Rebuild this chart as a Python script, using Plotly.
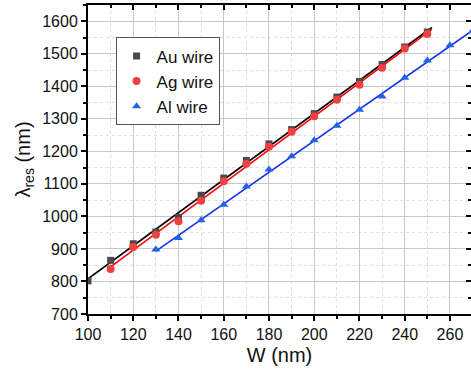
import numpy as np
import plotly.graph_objects as go

# Data
w_au = [100, 110, 120, 130, 140, 150, 160, 170, 180, 190, 200, 210, 220, 230, 240, 250]
lam_au = [802, 865, 916, 952, 997, 1065, 1118, 1172, 1223, 1267, 1316, 1367, 1415, 1467, 1521, 1567]
w_ag = [110, 120, 130, 140, 150, 160, 170, 180, 190, 200, 210, 220, 230, 240, 250]
lam_ag = [838, 906, 944, 985, 1048, 1108, 1162, 1214, 1260, 1308, 1359, 1405, 1457, 1516, 1561]
w_al = [130, 140, 150, 160, 170, 180, 190, 200, 210, 220, 230, 240, 250, 260, 270]
lam_al = [898, 934, 988, 1036, 1092, 1144, 1185, 1234, 1279, 1328, 1369, 1426, 1479, 1526, 1570]

series = [
    ("Au wire", w_au, lam_au, "square", "#4a4a4a", "#000000", 7),
    ("Ag wire", w_ag, lam_ag, "circle", "#f04040", "#ff0000", 8),
    ("Al wire", w_al, lam_al, "triangle-up", "#2262e6", "#1030f0", 8),
]

FONT = "Arial"
fig = go.Figure()

for name, x, y, sym, mc, lc, ms in series:
    k, b = np.polyfit(x, y, 1)
    xf = np.array([min(x), max(x) + 2])
    fig.add_trace(go.Scatter(x=xf, y=k * xf + b, mode="lines",
                             line=dict(color=lc, width=1.6), showlegend=False,
                             hoverinfo="skip"))

for name, x, y, sym, mc, lc, ms in series:
    fig.add_trace(go.Scatter(x=x, y=y, mode="markers", name=name,
                             marker=dict(symbol=sym, color=mc, size=ms,
                                         line=dict(width=0))))

# dummy trace for mirrored inside ticks
fig.add_trace(go.Scatter(x=[150], y=[1000], xaxis="x2", yaxis="y2",
                         mode="markers", marker=dict(opacity=0),
                         showlegend=False, hoverinfo="skip"))

XR = [100, 269.3]
YR = [700, 1650]
grid = "#c8c8c8"
mgrid = "#dedede"

fig.update_layout(
    width=471, height=375,
    margin=dict(l=88, r=0, t=5, b=61),
    paper_bgcolor="white", plot_bgcolor="white",
    font=dict(family=FONT, size=16, color="#111"),
    showlegend=True,
    legend=dict(x=0.072, y=0.895, xanchor="left", yanchor="top",
                bgcolor="white", bordercolor="#555", borderwidth=1,
                font=dict(size=17, family=FONT, color="#111"),
                itemsizing="trace", tracegroupgap=0),
    xaxis=dict(range=XR, dtick=20, tick0=100, showline=True, linecolor="black",
               linewidth=2, ticks="outside", ticklen=5, tickwidth=1.5,
               tickcolor="black", showgrid=True, gridcolor=grid, gridwidth=1,
               zeroline=False,
               minor=dict(dtick=10, ticks="outside", ticklen=3, tickwidth=1.5,
                          tickcolor="black", showgrid=True, gridcolor=mgrid,
                          griddash="dot"),
               title=dict(text="W (nm)", font=dict(size=20), standoff=6),
               tickfont=dict(size=16)),
    yaxis=dict(range=YR, dtick=100, tick0=700, showline=True, linecolor="black",
               linewidth=2, ticks="outside", ticklen=5, tickwidth=1.5,
               tickcolor="black", showgrid=True, gridcolor=grid, gridwidth=1,
               zeroline=False,
               minor=dict(dtick=50, ticks="outside", ticklen=3, tickwidth=1.5,
                          tickcolor="black", showgrid=True, gridcolor=mgrid,
                          griddash="dot"),
               title=dict(text="λ<sub>res</sub> (nm)", font=dict(size=20), standoff=6),
               tickfont=dict(size=16)),
    xaxis2=dict(range=XR, overlaying="x", side="top", dtick=20, tick0=100,
                showline=True, linecolor="black", linewidth=2, ticks="inside",
                ticklen=5, tickwidth=1.5, tickcolor="black",
                showticklabels=False, showgrid=False, zeroline=False,
                minor=dict(dtick=10, ticks="inside", ticklen=3, tickwidth=1.5,
                           tickcolor="black", showgrid=False)),
    yaxis2=dict(range=YR, overlaying="y", side="right", dtick=100, tick0=700,
                showline=False, ticks="inside", ticklen=5, tickwidth=1.5,
                tickcolor="black", showticklabels=False, showgrid=False,
                zeroline=False,
                minor=dict(dtick=50, ticks="inside", ticklen=3, tickwidth=1.5,
                           tickcolor="black", showgrid=False)),
)

fig.write_html("out.html")
